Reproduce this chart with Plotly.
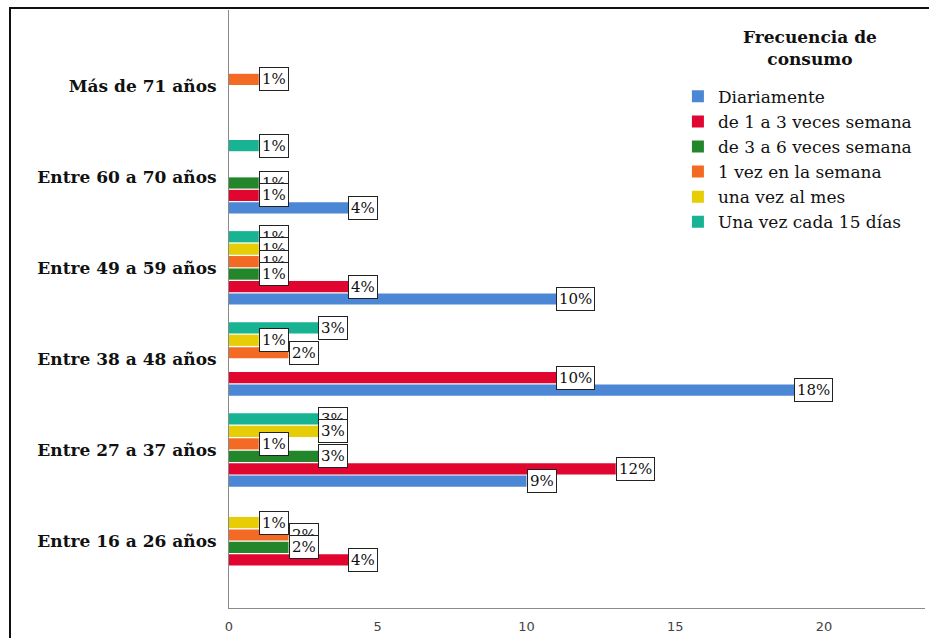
import plotly.graph_objects as go

# Age groups (bottom to top)
grupos = [
    "Entre 16 a 26 años",
    "Entre 27 a 37 años",
    "Entre 38 a 48 años",
    "Entre 49 a 59 años",
    "Entre 60 a 70 años",
    "Más de 71 años",
]

# Respondent counts per consumption frequency (None = no respondents)
diariamente = [None, 10, 19, 11, 4, None]
de_1_a_3_semana = [4, 13, 11, 4, 1, None]
de_3_a_6_semana = [2, 3, None, 1, 1, None]
una_vez_semana = [2, 1, 2, 1, None, 1]
una_vez_mes = [1, 3, 1, 1, None, None]
cada_15_dias = [None, 3, 3, 1, 1, None]

total_encuestados = 106

series = [
    ("Diariamente", diariamente, "#4c87d6"),
    ("de 1 a 3 veces semana", de_1_a_3_semana, "#e0062f"),
    ("de 3 a 6 veces semana", de_3_a_6_semana, "#24862a"),
    ("1 vez en la semana", una_vez_semana, "#f26a23"),
    ("una vez al mes", una_vez_mes, "#e6cd05"),
    ("Una vez cada 15 días", cada_15_dias, "#18b393"),
]

BARGAP = 0.18
n_series = len(series)
slot = (1 - BARGAP) / n_series

fig = go.Figure()
for nombre, valores, color in series:
    fig.add_trace(go.Bar(
        y=grupos, x=valores, name=nombre, orientation="h",
        marker=dict(color=color, line=dict(width=0)),
    ))

# Percentage labels in boxes at the end of each bar (top series drawn first)
serif = "DejaVu Serif, Liberation Serif, serif"
annotations = []
for i in reversed(range(n_series)):
    _, valores, _ = series[i]
    offset = -(1 - BARGAP) / 2 + (i + 0.5) * slot
    for g, v in enumerate(valores):
        if v is None:
            continue
        pct = round(100 * v / total_encuestados)
        annotations.append(dict(
            x=v, y=g + offset, xref="x", yref="y",
            text=f"{pct}%", showarrow=False, xanchor="left", yanchor="middle",
            font=dict(family=serif, size=15, color="#111"),
            bgcolor="white", bordercolor="#222", borderwidth=1, borderpad=2,
        ))

# Legend heading, centred over the legend entries
annotations.append(dict(
    x=0.835, y=0.937, xref="paper", yref="paper",
    text="<b>Frecuencia de<br>consumo</b>", showarrow=False,
    xanchor="center", yanchor="middle", align="center",
    font=dict(family=serif, size=17, color="#111"),
))

fig.update_layout(
    width=929, height=638,
    margin=dict(l=229, r=4, t=10, b=28),
    paper_bgcolor="white", plot_bgcolor="white",
    barmode="group", bargap=BARGAP, bargroupgap=0.1,
    annotations=annotations,
    legend=dict(
        x=0.645, y=0.885, xanchor="left", yanchor="top",
        bgcolor="rgba(0,0,0,0)",
        font=dict(family=serif, size=17, color="#111"),
        traceorder="normal", itemwidth=30, tracegroupgap=0,
    ),
    shapes=[dict(
        type="rect", xref="paper", yref="paper",
        x0=(10 - 229) / 696, x1=1.2, y0=-0.2, y1=1 + 2 / 600,
        line=dict(color="#111", width=2), fillcolor="rgba(0,0,0,0)", layer="above",
    )],
)

fig.update_xaxes(
    range=[0, 696 / 29.75], tickvals=[0, 5, 10, 15, 20],
    showgrid=False, zeroline=False, showline=True, linecolor="#8a8a8a", linewidth=1,
    tickfont=dict(family="DejaVu Sans, sans-serif", size=13, color="#444"),
    ticks="", ticklabelstandoff=6,
)
fig.update_yaxes(
    type="category", range=[-0.733, 5.83],
    showgrid=False, zeroline=False, showline=True, linecolor="#8a8a8a", linewidth=1,
    tickfont=dict(family=serif, size=17, color="#111", weight="bold"),
    ticks="", ticklabelstandoff=8,
)

fig.write_html("out.html")
